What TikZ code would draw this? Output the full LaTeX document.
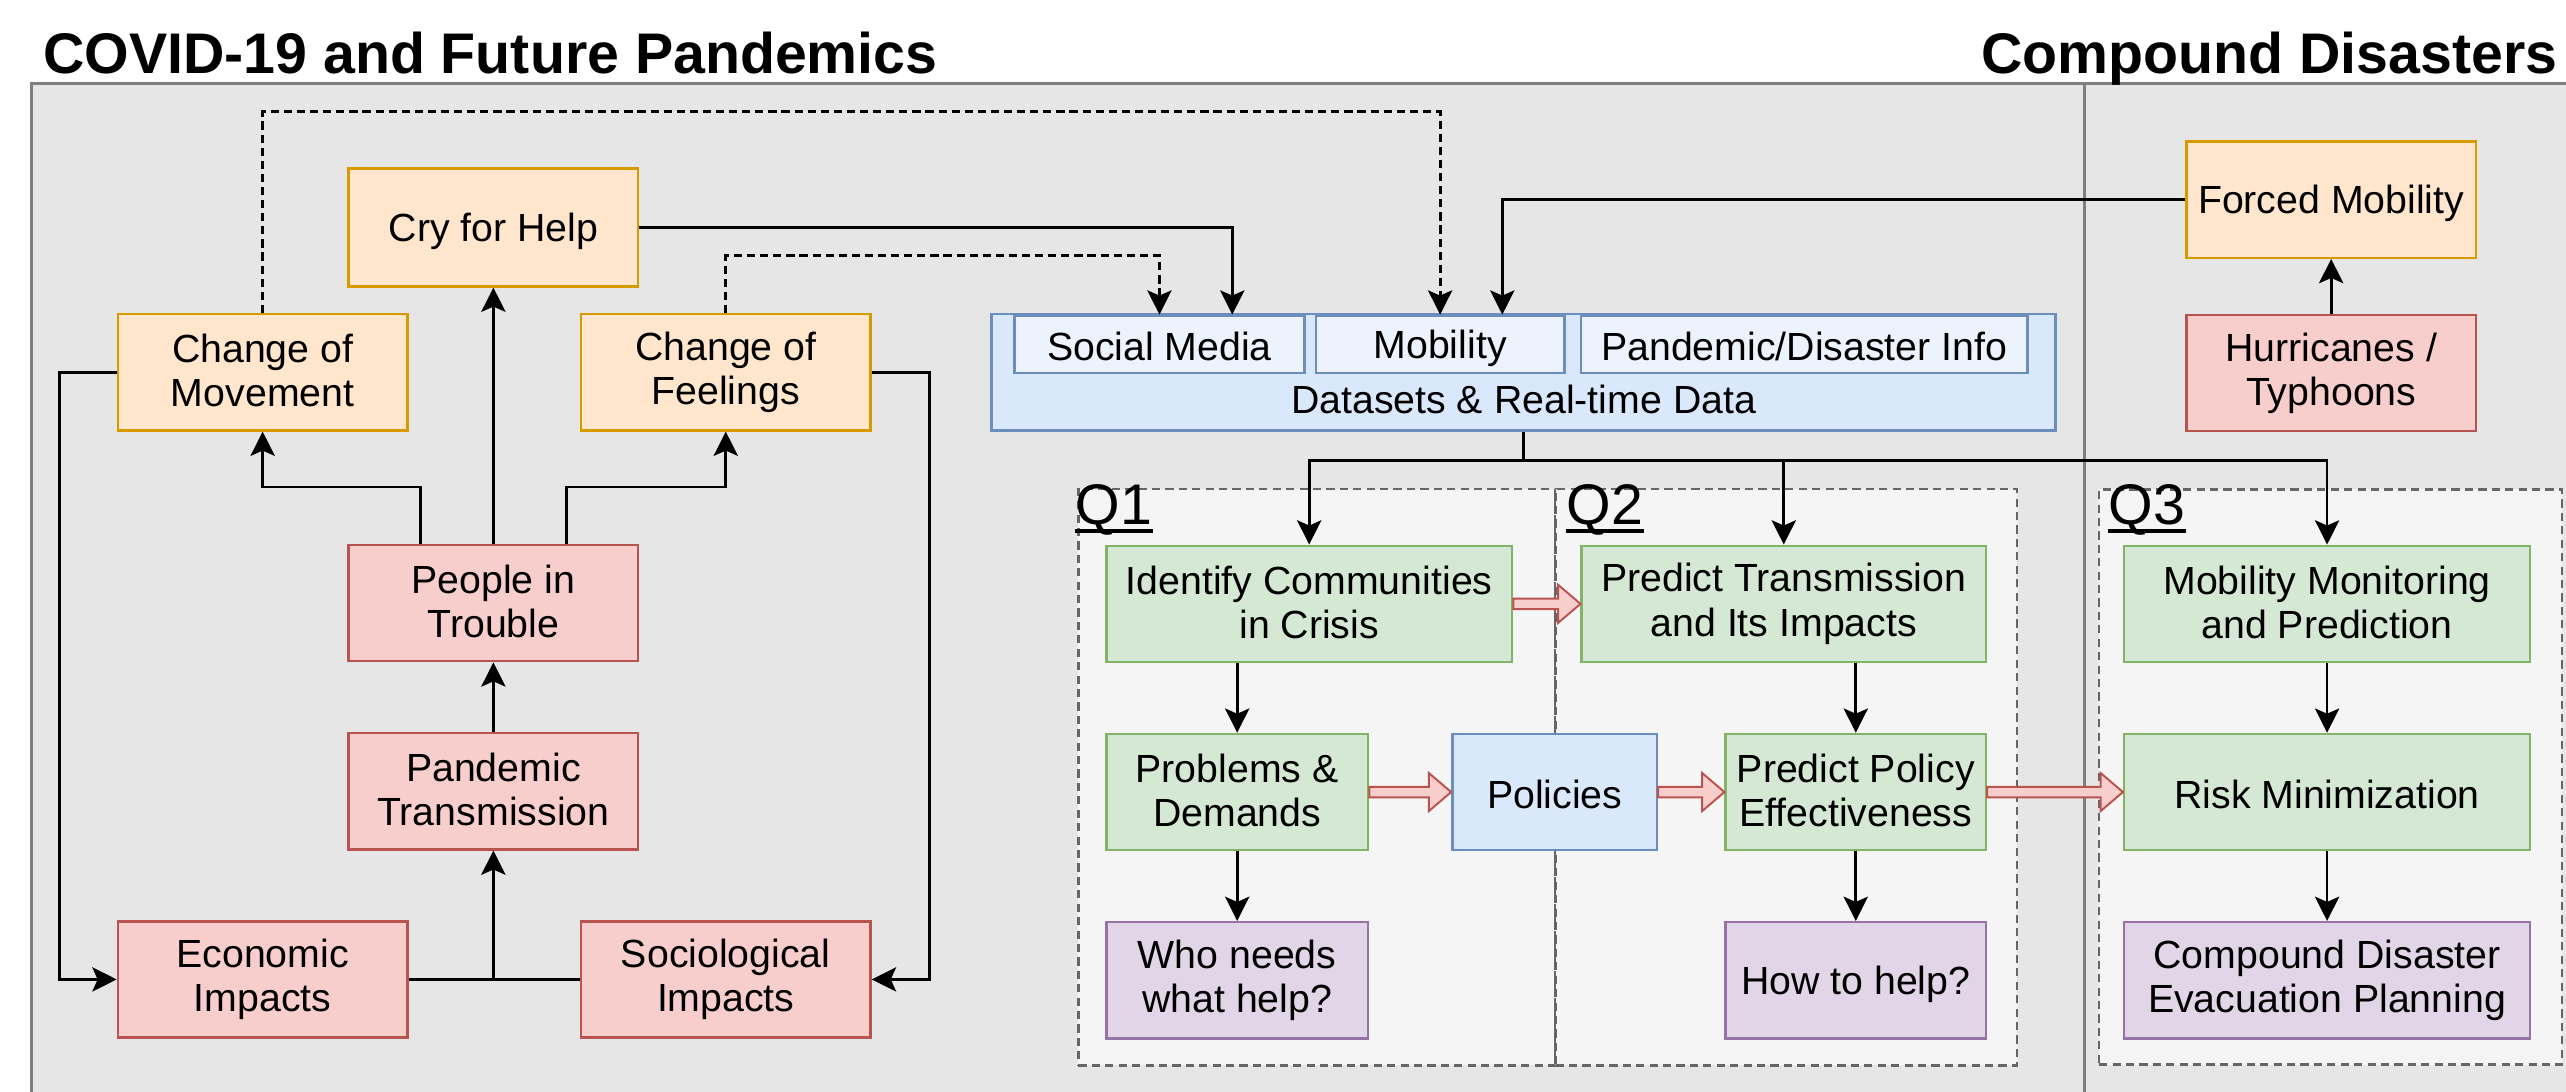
\documentclass[tikz,border=0pt]{standalone}
\usepackage{fontspec}
\setmainfont{Liberation Sans}
\usetikzlibrary{arrows.meta,calc}

\definecolor{orgfill}{HTML}{FFE6CC}\definecolor{orgline}{HTML}{D79B00}
\definecolor{redfill}{HTML}{F8CECC}\definecolor{redline}{HTML}{B85450}
\definecolor{grnfill}{HTML}{D5E8D4}\definecolor{grnline}{HTML}{82B366}
\definecolor{blufill}{HTML}{DAE8FC}\definecolor{bluline}{HTML}{6C8EBF}
\definecolor{purfill}{HTML}{E1D5E7}\definecolor{purline}{HTML}{9673A6}
\definecolor{inbfill}{HTML}{EDF3FD}
\definecolor{panelfill}{HTML}{E6E6E6}\definecolor{panelline}{HTML}{7F7F7F}
\definecolor{qfill}{HTML}{F5F5F5}\definecolor{qline}{HTML}{666666}

% invisible strut that fixes the height and depth of a text line
\newcommand\linestrut{\rule[-1pt]{0pt}{12pt}}

% horizontal block arrow from the east side of #1 to the west side of #2
\newcommand\fatarrow[2]{%
  \draw[draw=redline, fill=redfill, line width=0.6pt, line join=miter]
    let \p1=(#1.east), \p2=(#2.west) in
    (\x1,\y1+1.6pt) -- (\x2-6.8pt,\y1+1.6pt) -- (\x2-6.8pt,\y1+5.8pt) -- (\x2,\y1)
    -- (\x2-6.8pt,\y1-5.8pt) -- (\x2-6.8pt,\y1-1.6pt) -- (\x1,\y1-1.6pt) -- cycle;}

\begin{document}
\begin{tikzpicture}[x=0.5pt,y=-0.5pt,
  nbox/.style={draw, line width=0.75pt, align=center, inner sep=0pt,
    font=\fontsize{12}{13.5}\selectfont,
    execute at begin node=\linestrut, execute at end node=\linestrut},
  sz/.style 2 args={minimum width=#1, minimum height=#2},
  obox/.style={nbox, fill=orgfill, draw=orgline},
  rbox/.style={nbox, fill=redfill, draw=redline},
  gbox/.style={nbox, fill=grnfill, draw=grnline},
  bbox/.style={nbox, fill=blufill, draw=bluline},
  pbox/.style={nbox, fill=purfill, draw=purline},
  ibox/.style={nbox, fill=inbfill, draw=bluline},
  qframe/.style={draw=qline, fill=qfill, line width=0.8pt, dash pattern=on 2.5pt off 1.6pt, inner sep=0pt},
  qlabel/.style={inner sep=0pt, font=\fontsize{17.5}{21}\selectfont},
  qrule/.style={line width=1.3pt},
  title/.style={inner sep=0pt, font=\bfseries\fontsize{17.5}{21}\selectfont},
  plain/.style={inner sep=0pt, font=\fontsize{12}{13.5}\selectfont},
  arr/.style={-{Stealth[length=7.4pt,width=7.4pt,inset=1.6pt]}, line width=0.85pt},
  link/.style={line width=0.85pt},
  dsh/.style={dash pattern=on 2.5pt off 1.5pt}]

\useasboundingbox (0,0) rectangle (1568,667);
\clip (0,0) rectangle (1568,667);
\fill[white] (0,0) rectangle (1568,667);

% panels
\draw[fill=panelfill, draw=panelline, line width=0.9pt] (19,51) rectangle (1600,700);
\draw[draw=panelline, line width=0.9pt] (1274,51) -- (1274,700);

\node[title, anchor=base west] (t1) at (26,45) {COVID-19 and Future Pandemics};
\node[title, anchor=base east] (t2) at (1563,45) {Compound Disasters};

% question frames
\node[qframe, sz={145.8pt}{176.15pt}] (q1frame) at (804.8,474.85) {};
\node[qframe, sz={140.95pt}{176.15pt}] (q2frame) at (1091.55,474.85) {};
\node[qframe, sz={141.45pt}{175.75pt}] (q3frame) at (1424.15,474.75) {};
\node[qlabel, anchor=base west] (q1) at (657,320.5) {Q1};
\node[qlabel, anchor=base west] (q2) at (957,320.5) {Q2};
\node[qlabel, anchor=base west] (q3) at (1288,320.5) {Q3};
\draw[qrule] ([yshift=-2pt]q1.base west) -- ([yshift=-2pt]q1.base east);
\draw[qrule] ([yshift=-2pt]q2.base west) -- ([yshift=-2pt]q2.base east);
\draw[qrule] ([yshift=-2pt]q3.base west) -- ([yshift=-2pt]q3.base east);

% pandemic chain
\node[obox, sz={88.5pt}{36pt}] (cry) at (301.5,139) {Cry for Help};
\node[obox, sz={88.5pt}{35.5pt}] (chmov) at (160.5,227.5) {Change of\\Movement};
\node[obox, sz={88.5pt}{35.5pt}] (chfeel) at (443.5,227.5) {Change of\\Feelings};
\node[rbox, sz={88.5pt}{35.5pt}] (people) at (301.5,368.5) {People in\\Trouble};
\node[rbox, sz={88.5pt}{35.5pt}] (pandemic) at (301.5,483.5) {Pandemic\\Transmission};
\node[rbox, sz={88.5pt}{35.5pt}] (econ) at (160.5,598.5) {Economic\\Impacts};
\node[rbox, sz={88.5pt}{35.5pt}] (socio) at (443.5,598.5) {Sociological\\Impacts};

% data sources
\node[bbox, sz={325pt}{35.5pt}] (ds) at (931,227.5) {};
\node[plain, anchor=base] (dslabel) at (931,252.6) {Datasets \& Real-time Data};
\node[ibox, sz={88.5pt}{17.5pt}] (socmed) at (708.5,210.5) {Social Media};
\node[ibox, sz={76pt}{17.5pt}] (mobil) at (880,210.5) {Mobility};
\node[ibox, sz={136.5pt}{17.5pt}] (pdinfo) at (1102.5,210.5) {Pandemic/Disaster Info};

% compound disasters
\node[obox, sz={88.5pt}{35.5pt}] (forced) at (1424.5,122) {Forced Mobility};
\node[rbox, sz={88.5pt}{35.5pt}] (hurr) at (1424.5,228) {Hurricanes /\\Typhoons};

% research questions
\node[gbox, sz={124pt}{35.5pt}] (ident) at (800,369) {Identify Communities\\in Crisis};
\node[gbox, sz={123.5pt}{35.5pt}] (ptrans) at (1090,369) {Predict Transmission\\and Its Impacts};
\node[gbox, sz={80pt}{35.5pt}] (probs) at (756,484) {Problems \&\\Demands};
\node[bbox, sz={62.5pt}{35.5pt}] (policies) at (950,484) {Policies};
\node[gbox, sz={79.5pt}{35.5pt}] (ppolicy) at (1134,484) {Predict Policy\\Effectiveness};
\node[pbox, sz={80pt}{35.5pt}] (who) at (756,599) {Who needs\\what help?};
\node[pbox, sz={79.5pt}{35.5pt}] (howto) at (1134,599) {How to help?};
\node[gbox, sz={124pt}{35.5pt}] (mmon) at (1422,369) {Mobility Monitoring\\and Prediction};
\node[gbox, sz={124pt}{35.5pt}] (risk) at (1422,484) {Risk Minimization};
\node[pbox, sz={124pt}{35.5pt}] (evac) at (1422,599) {Compound Disaster\\Evacuation Planning};

% causal links on the left
\draw[link] (econ.east) -- (socio.west);
\draw[arr] (econ.east -| pandemic.south) -- (pandemic.south);
\draw[arr] (pandemic.north) -- (people.south);
\draw[arr] (people.north) -- (cry.south);
\coordinate (pl) at ($(people.north west)!0.25!(people.north east)$);
\coordinate (pr) at ($(people.north west)!0.75!(people.north east)$);
\draw[arr] (pl) -- ++(0,-34.6) -| (chmov.south);
\draw[arr] (pr) -- ++(0,-34.6) -| (chfeel.south);
\draw[arr] (chmov.west) -- ++(-35,0) |- (econ.west);
\draw[arr] (chfeel.east) -- ++(35,0) |- (socio.east);

% feeds into the data sources
\draw[arr, dsh] (chmov.north) -- ++(0,-123) -| (mobil.north);
\draw[arr, dsh] (chfeel.north) -- ++(0,-35) -| (socmed.north);
\draw[arr] (cry.east) -| ([xshift=22.25pt]socmed.north);
\draw[arr] (forced.west) -| ([xshift=19pt]mobil.north);
\draw[arr] (hurr.north) -- (forced.south);

% data to the questions
\coordinate (br) at ($(ds.south)+(0,17.5)$);
\draw[link] (ds.south) -- (br);
\draw[arr] (br) -| (ident.north);
\draw[arr] (br) -| (ptrans.north);
\draw[arr] (br) -| (mmon.north);

\draw[arr] (ident.south -| probs.north) -- (probs.north);
\draw[arr] (probs.south) -- (who.north);
\draw[arr] (ptrans.south -| ppolicy.north) -- (ppolicy.north);
\draw[arr] (ppolicy.south) -- (howto.north);
\draw[arr] (mmon.south) -- (risk.north);
\draw[arr] (risk.south) -- (evac.north);

\fatarrow{ident}{ptrans}
\fatarrow{probs}{policies}
\fatarrow{policies}{ppolicy}
\fatarrow{ppolicy}{risk}
\end{tikzpicture}
\end{document}
